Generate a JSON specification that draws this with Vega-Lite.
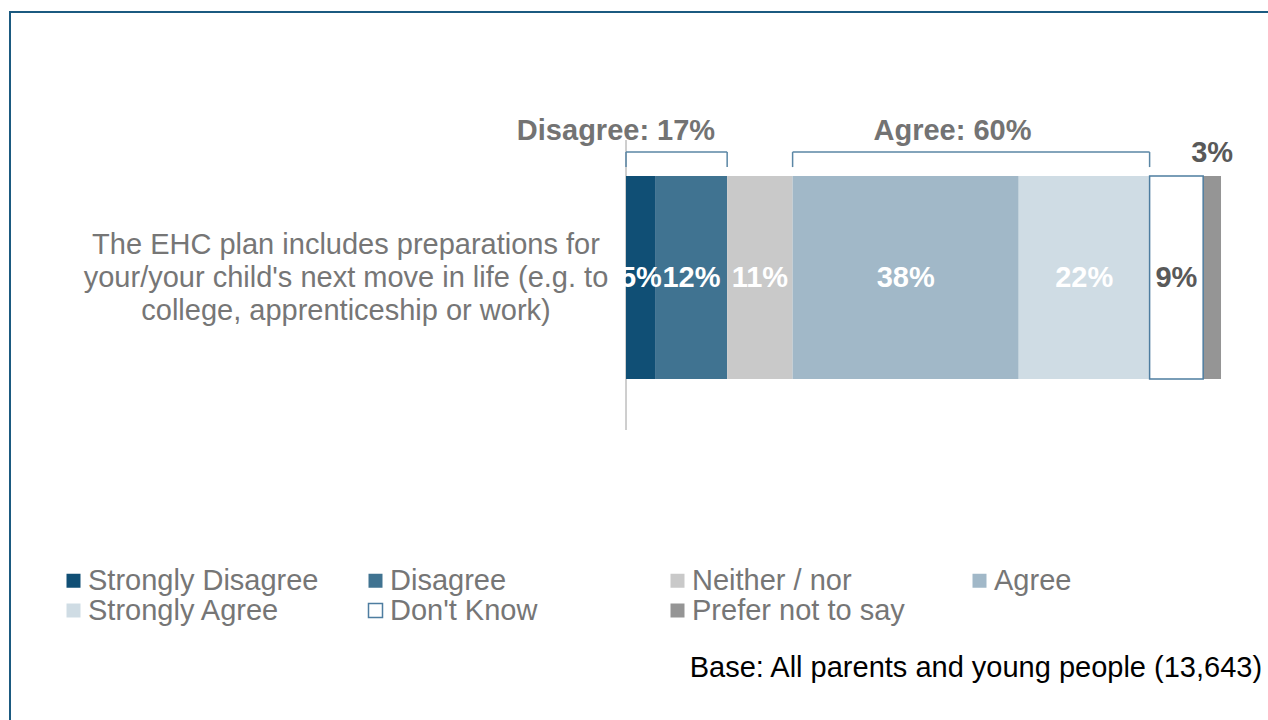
{
  "$schema": "https://vega.github.io/schema/vega-lite/v6.json",
  "width": 1262,
  "height": 712,
  "autosize": "none",
  "padding": {"left": 10, "top": 12, "right": -4, "bottom": -4},
  "background": "white",
  "config": {
    "view": {"stroke": "#1B5A80", "strokeWidth": 2},
    "font": "Liberation Sans"
  },
  "data": {
    "values": [
      {"response": "Strongly Disagree", "value": 5, "rank": 1, "group": "Disagree"},
      {"response": "Disagree", "value": 12, "rank": 2, "group": "Disagree"},
      {"response": "Neither / nor", "value": 11, "rank": 3, "group": null},
      {"response": "Agree", "value": 38, "rank": 4, "group": "Agree"},
      {"response": "Strongly Agree", "value": 22, "rank": 5, "group": "Agree"},
      {"response": "Don't Know", "value": 9, "rank": 6, "group": null},
      {"response": "Prefer not to say", "value": 3, "rank": 7, "group": null}
    ]
  },
  "transform": [
    {"stack": "value", "groupby": [], "sort": [{"field": "rank", "order": "ascending"}], "as": ["start", "end"]},
    {"calculate": "(datum.start + datum.end) / 2", "as": "mid"},
    {"calculate": "datum.value + '%'", "as": "label"}
  ],
  "layer": [
    {
      "data": {"values": [{}]},
      "mark": {"type": "rule", "color": "#BFBFBF", "strokeWidth": 1.5},
      "encoding": {
        "x": {"datum": 0, "type": "quantitative", "scale": {"domain": [-103.53, 108.57], "nice": false, "zero": false}, "axis": null},
        "y": {"datum": -2.51, "type": "quantitative", "scale": {"domain": [-16.995, 18.079], "nice": false, "zero": false}, "axis": null},
        "y2": {"datum": 11.77}
      }
    },
    {
      "mark": {"type": "rect"},
      "encoding": {
        "x": {"field": "start", "type": "quantitative", "axis": null},
        "x2": {"field": "end"},
        "y": {"datum": 0, "type": "quantitative", "axis": null},
        "y2": {"datum": 10},
        "color": {
          "field": "response",
          "type": "nominal",
          "scale": {
            "domain": ["Strongly Disagree", "Disagree", "Neither / nor", "Agree", "Strongly Agree", "Don't Know", "Prefer not to say"],
            "range": ["#104F75", "#407391", "#C9C9C9", "#A1B8C8", "#CFDCE4", "#FFFFFF", "#959595"]
          },
          "legend": {
            "title": null,
            "orient": "none",
            "legendX": 49,
            "legendY": 554,
            "direction": "horizontal",
            "columns": 4,
            "gridAlign": "all",
            "columnPadding": 42,
            "rowPadding": -1,
            "padding": 0,
            "symbolType": "square",
            "symbolSize": 196,
            "labelOffset": 0,
            "labelFont": "Liberation Sans",
            "labelFontSize": 29,
            "labelColor": "#767676",
            "labelLimit": 400,
            "encode": {
              "symbols": {
                "update": {
                  "stroke": {"signal": "datum.value === \"Don't Know\" ? '#4E7DA0' : null"},
                  "strokeWidth": {"value": 1.5}
                }
              }
            }
          }
        }
      }
    },
    {
      "transform": [{"filter": "datum.response === \"Don't Know\""}],
      "mark": {"type": "rect", "fill": null, "filled": false, "stroke": "#4E7DA0", "strokeWidth": 1.5},
      "encoding": {
        "x": {"field": "start", "type": "quantitative", "axis": null},
        "x2": {"field": "end"},
        "y": {"datum": 0, "type": "quantitative", "axis": null},
        "y2": {"datum": 10}
      }
    },
    {
      "transform": [{"filter": "datum.response !== 'Prefer not to say'"}],
      "mark": {"type": "text", "fontSize": 29, "fontWeight": "bold", "align": "center", "baseline": "middle"},
      "encoding": {
        "x": {"field": "mid", "type": "quantitative", "axis": null},
        "y": {"datum": 5, "type": "quantitative", "axis": null},
        "text": {"field": "label", "type": "nominal"},
        "color": {"condition": {"test": "datum.response === \"Don't Know\"", "value": "#595959"}, "value": "#FFFFFF"}
      }
    },
    {
      "transform": [{"filter": "datum.response === 'Prefer not to say'"}],
      "mark": {"type": "text", "fontSize": 29, "fontWeight": "bold", "align": "center", "baseline": "middle", "color": "#595959"},
      "encoding": {
        "x": {"field": "mid", "type": "quantitative", "axis": null},
        "y": {"datum": 11.13, "type": "quantitative", "axis": null},
        "text": {"field": "label", "type": "nominal"}
      }
    },
    {
      "transform": [
        {"filter": "datum.group != null"},
        {"aggregate": [{"op": "min", "field": "start", "as": "b0"}, {"op": "max", "field": "end", "as": "b1"}], "groupby": ["group"]}
      ],
      "layer": [
        {
          "mark": {"type": "rule", "color": "#5A86A5", "strokeWidth": 1.5},
          "encoding": {
            "x": {"field": "b0", "type": "quantitative", "axis": null},
            "x2": {"field": "b1"},
            "y": {"datum": 11.18, "type": "quantitative", "axis": null}
          }
        },
        {
          "mark": {"type": "rule", "color": "#5A86A5", "strokeWidth": 1.5},
          "encoding": {
            "x": {"field": "b0", "type": "quantitative", "axis": null},
            "y": {"datum": 10.44, "type": "quantitative", "axis": null},
            "y2": {"datum": 11.18}
          }
        },
        {
          "mark": {"type": "rule", "color": "#5A86A5", "strokeWidth": 1.5},
          "encoding": {
            "x": {"field": "b1", "type": "quantitative", "axis": null},
            "y": {"datum": 10.44, "type": "quantitative", "axis": null},
            "y2": {"datum": 11.18}
          }
        }
      ]
    },
    {
      "data": {"values": [{"t": "Disagree: 17%"}]},
      "mark": {"type": "text", "fontSize": 29, "fontWeight": "bold", "align": "center", "baseline": "middle", "color": "#737373"},
      "encoding": {
        "x": {"datum": -1.68, "type": "quantitative", "axis": null},
        "y": {"datum": 12.22, "type": "quantitative", "axis": null},
        "text": {"field": "t", "type": "nominal"}
      }
    },
    {
      "data": {"values": [{"t": "Agree: 60%"}]},
      "mark": {"type": "text", "fontSize": 29, "fontWeight": "bold", "align": "center", "baseline": "middle", "color": "#737373"},
      "encoding": {
        "x": {"datum": 54.87, "type": "quantitative", "axis": null},
        "y": {"datum": 12.22, "type": "quantitative", "axis": null},
        "text": {"field": "t", "type": "nominal"}
      }
    },
    {
      "data": {"values": [{"q": "The EHC plan includes preparations for\nyour/your child's next move in life (e.g. to\ncollege, apprenticeship or work)"}]},
      "mark": {"type": "text", "fontSize": 29, "lineHeight": 33, "lineBreak": "\n", "align": "center", "baseline": "middle", "color": "#767676"},
      "encoding": {
        "x": {"datum": -47.06, "type": "quantitative", "axis": null},
        "y": {"datum": 6.6, "type": "quantitative", "axis": null},
        "text": {"field": "q", "type": "nominal"}
      }
    },
    {
      "data": {"values": [{"n": "Base: All parents and young people (13,643)"}]},
      "mark": {"type": "text", "fontSize": 29, "align": "right", "baseline": "middle", "color": "#000000"},
      "encoding": {
        "x": {"datum": 106.9, "type": "quantitative", "axis": null},
        "y": {"datum": -14.24, "type": "quantitative", "axis": null},
        "text": {"field": "n", "type": "nominal"}
      }
    }
  ]
}
